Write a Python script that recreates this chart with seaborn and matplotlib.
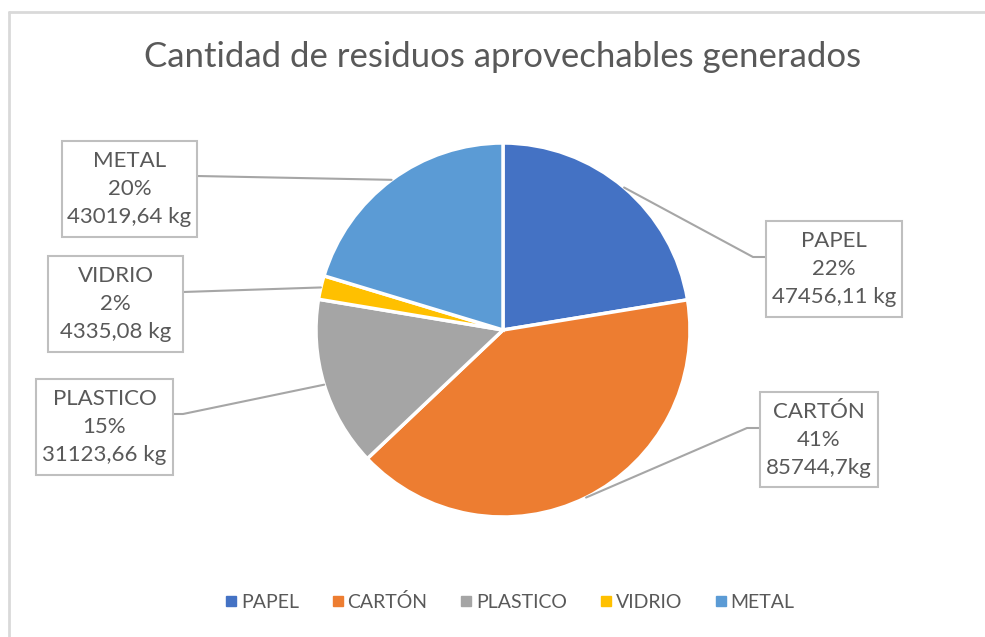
import numpy as np
import matplotlib.pyplot as plt
import seaborn as sns
from matplotlib.patches import Rectangle
from matplotlib.lines import Line2D

# data
categories = ['PAPEL', 'CARTÓN', 'PLASTICO', 'VIDRIO', 'METAL']
weights_kg = [47456.11, 85744.7, 31123.66, 4335.08, 43019.64]
weight_labels = ['47456,11 kg', '85744,7kg', '31123,66 kg', '4335,08 kg', '43019,64 kg']
colors = ['#4472C4', '#ED7D31', '#A5A5A5', '#FFC000', '#5B9BD5']

W, H = 985, 637
TXT = '#595959'

sns.set_theme(style='white')
plt.rcParams['font.family'] = ['Lato', 'DejaVu Sans']

fig = plt.figure(figsize=(W / 100, H / 100), dpi=100)
ax = fig.add_axes([0, 0, 1, 1])

def py(y):
    # pixel row -> data y
    return H - y

cx, cy, r = 503, py(330), 187
wedges, _ = ax.pie(weights_kg, colors=colors, startangle=90, counterclock=False,
                   center=(cx, cy), radius=r, frame=True,
                   wedgeprops=dict(edgecolor='white', linewidth=2.5))
ax.set_xlim(0, W)
ax.set_ylim(0, H)
ax.set_aspect('equal')
ax.axis('off')

# chart area border (only top and left edges show)
fig.add_artist(Line2D([9 / W, 9 / W], [0, 1 - 12 / H], color='#D9D9D9', lw=2))
fig.add_artist(Line2D([9 / W, 1], [1 - 12 / H, 1 - 12 / H], color='#D9D9D9', lw=2))

total = sum(weights_kg)

# label boxes: (left, top, right, bottom) in pixels, plus elbow point
boxes = {
    'PAPEL': ((766, 221, 902, 317), (753, 257), (766, 257)),
    'CARTÓN': ((760, 392, 878, 487), (747, 428), (760, 428)),
    'PLASTICO': ((36, 379, 173, 475), (183, 414), (173, 414)),
    'VIDRIO': ((48, 256, 183, 352), (183, 292), (183, 292)),
    'METAL': ((62, 141, 197, 237), (197, 176), (197, 176)),
}

for w, cat, v, lab in zip(wedges, categories, weights_kg, weight_labels):
    (x0, y0, x1, y1), elbow, end = boxes[cat]
    ax.add_patch(Rectangle((x0, py(y1)), x1 - x0, y1 - y0, fill=True, fc='white',
                           ec='#BFBFBF', lw=1.5, zorder=4))
    pct = round(v / total * 100)
    ax.text((x0 + x1) / 2, py((y0 + y1) / 2), f'{cat}\n{pct}%\n{lab}', ha='center', va='center',
            fontsize=16, color=TXT, linespacing=1.5, zorder=5)
    mid = np.deg2rad((w.theta1 + w.theta2) / 2)
    sx, sy = cx + r * np.cos(mid), cy + r * np.sin(mid)
    ax.plot([sx, elbow[0], end[0]], [sy, py(elbow[1]), py(end[1])], color='#A6A6A6', lw=1.5, zorder=3)

ax.text(503, py(57), 'Cantidad de residuos aprovechables generados', ha='center', va='center',
        fontsize=25, color=TXT)

handles = [Line2D([], [], marker='s', ls='', color=c, markersize=7) for c in colors]
fig.legend(handles, categories, loc='center', bbox_to_anchor=(509 / W, 1 - 602 / H), ncol=5,
           frameon=False, fontsize=14, handletextpad=0.1, columnspacing=1.6, handlelength=0.8,
           labelcolor=TXT)

fig.savefig('out.png', dpi=100)
